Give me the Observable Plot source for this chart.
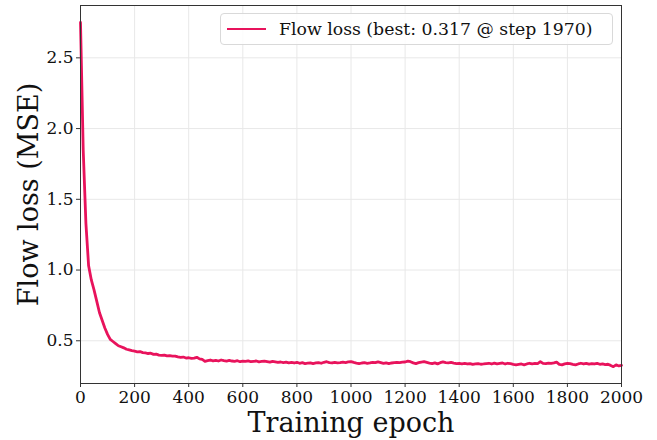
<!DOCTYPE html>
<html>
<head>
<meta charset="utf-8">
<script src="https://cdn.jsdelivr.net/npm/d3@7"></script>
<script src="https://cdn.jsdelivr.net/npm/@observablehq/plot@0.6"></script>
<style>
  html, body { margin: 0; padding: 0; background: #fff; }
  #wrap { position: relative; width: 657px; height: 440px; font-family: "DejaVu Serif", serif; }
  #legend {
    position: absolute; left: 220px; top: 13px; width: 393px; height: 32px;
    border: 1px solid #d9d9d9; border-radius: 4px; background: rgba(255,255,255,0.85);
    box-sizing: border-box; display: flex; align-items: center;
    font-size: 17.3px; color: #111; white-space: nowrap;
  }
  #legend .swatch { display: inline-block; width: 39px; height: 0; border-top: 2.8px solid #e8135c; margin-left: 6px; margin-right: 13px; }
</style>
</head>
<body>
<div id="wrap"></div>
<script>
const seriesName = "Flow loss (best: 0.317 @ step 1970)";
const xLabel = "Training epoch";
const yLabel = "Flow loss (MSE)";
const xTicks = [0, 200, 400, 600, 800, 1000, 1200, 1400, 1600, 1800, 2000];
const yTicks = [0.5, 1.0, 1.5, 2.0, 2.5];
const steps = [
  0,10,20,30,40,50,60,70,80,90,
  100,110,120,130,140,150,160,170,180,190,
  200,210,220,230,240,250,260,270,280,290,
  300,310,320,330,340,350,360,370,380,390,
  400,410,420,430,440,450,460,470,480,490,
  500,510,520,530,540,550,560,570,580,590,
  600,610,620,630,640,650,660,670,680,690,
  700,710,720,730,740,750,760,770,780,790,
  800,810,820,830,840,850,860,870,880,890,
  900,910,920,930,940,950,960,970,980,990,
  1000,1010,1020,1030,1040,1050,1060,1070,1080,1090,
  1100,1110,1120,1130,1140,1150,1160,1170,1180,1190,
  1200,1210,1220,1230,1240,1250,1260,1270,1280,1290,
  1300,1310,1320,1330,1340,1350,1360,1370,1380,1390,
  1400,1410,1420,1430,1440,1450,1460,1470,1480,1490,
  1500,1510,1520,1530,1540,1550,1560,1570,1580,1590,
  1600,1610,1620,1630,1640,1650,1660,1670,1680,1690,
  1700,1710,1720,1730,1740,1750,1760,1770,1780,1790,
  1800,1810,1820,1830,1840,1850,1860,1870,1880,1890,
  1900,1910,1920,1930,1940,1950,1960,1970,1980,1990,
  2000
];
const loss = [
  2.75,1.85,1.33,1.03,0.93,0.86,0.78,0.70,0.645,0.59,
  0.545,0.51,0.495,0.48,0.465,0.458,0.45,0.44,0.435,0.43,
  0.427,0.422,0.424,0.416,0.414,0.41,0.412,0.404,0.406,0.399,
  0.397,0.399,0.393,0.395,0.392,0.392,0.386,0.383,0.385,0.378,
  0.380,0.375,0.378,0.383,0.372,0.368,0.355,0.360,0.364,0.358,
  0.362,0.357,0.364,0.359,0.356,0.361,0.357,0.355,0.359,0.352,
  0.356,0.354,0.358,0.352,0.355,0.357,0.351,0.354,0.356,0.353,
  0.349,0.354,0.351,0.347,0.350,0.346,0.349,0.344,0.347,0.343,
  0.348,0.341,0.345,0.339,0.342,0.344,0.339,0.343,0.346,0.341,
  0.348,0.352,0.346,0.343,0.347,0.344,0.345,0.349,0.346,0.351,
  0.353,0.347,0.342,0.338,0.343,0.345,0.341,0.344,0.348,0.345,
  0.351,0.346,0.340,0.344,0.339,0.343,0.345,0.347,0.346,0.349,
  0.350,0.356,0.352,0.344,0.339,0.345,0.349,0.352,0.347,0.342,
  0.338,0.344,0.337,0.345,0.351,0.346,0.344,0.347,0.342,0.339,
  0.341,0.337,0.340,0.336,0.339,0.333,0.336,0.339,0.334,0.336,
  0.339,0.341,0.336,0.342,0.337,0.341,0.343,0.336,0.341,0.338,
  0.333,0.329,0.333,0.336,0.330,0.336,0.341,0.337,0.340,0.339,
  0.352,0.340,0.338,0.342,0.340,0.344,0.349,0.333,0.330,0.337,
  0.341,0.338,0.333,0.330,0.336,0.341,0.336,0.340,0.335,0.339,
  0.336,0.340,0.334,0.337,0.332,0.334,0.326,0.317,0.330,0.322,
  0.326
];
const data = steps.map((s, i) => ({step: s, loss: loss[i]}));
const font = "DejaVu Serif";
const lineColor = "#e8135c";

const chart = Plot.plot({
  width: 657,
  height: 440,
  marginLeft: 80,
  marginRight: 36,
  marginTop: 5,
  marginBottom: 57,
  style: {fontFamily: font, background: "#fff", color: "#222"},
  x: {domain: [0, 2000]},
  y: {domain: [0.198, 2.87]},
  marks: [
    Plot.gridX(xTicks, {stroke: "#e8e8e8", strokeOpacity: 1}),
    Plot.gridY(yTicks, {stroke: "#e8e8e8", strokeOpacity: 1}),
    Plot.axisX(xTicks, {label: null, fontSize: 17, tickSize: 4, tickPadding: 3, stroke: "#333", fill: "#111", tickFormat: d => String(d)}),
    Plot.axisY(yTicks, {label: null, fontSize: 17, tickSize: 4, tickPadding: 3, stroke: "#333", fill: "#111", tickFormat: d => d.toFixed(1)}),
    Plot.line(data, {x: "step", y: "loss", stroke: lineColor, strokeWidth: 2.8, strokeLinejoin: "round"}),
    Plot.frame({stroke: "#333", strokeWidth: 1}),
    Plot.text([xLabel], {frameAnchor: "bottom", lineAnchor: "middle", dy: 40, fontSize: 27, fill: "#111", fontFamily: font}),
    Plot.text([yLabel], {frameAnchor: "left", textAnchor: "middle", lineAnchor: "middle", dx: -51, rotate: -90, fontSize: 27, fill: "#111", fontFamily: font})
  ]
});
const wrap = document.getElementById("wrap");
wrap.appendChild(chart);
const legend = document.createElement("div");
legend.id = "legend";
legend.innerHTML = '<span class="swatch"></span><span></span>';
legend.lastChild.textContent = seriesName;
wrap.appendChild(legend);
</script>
</body>
</html>
